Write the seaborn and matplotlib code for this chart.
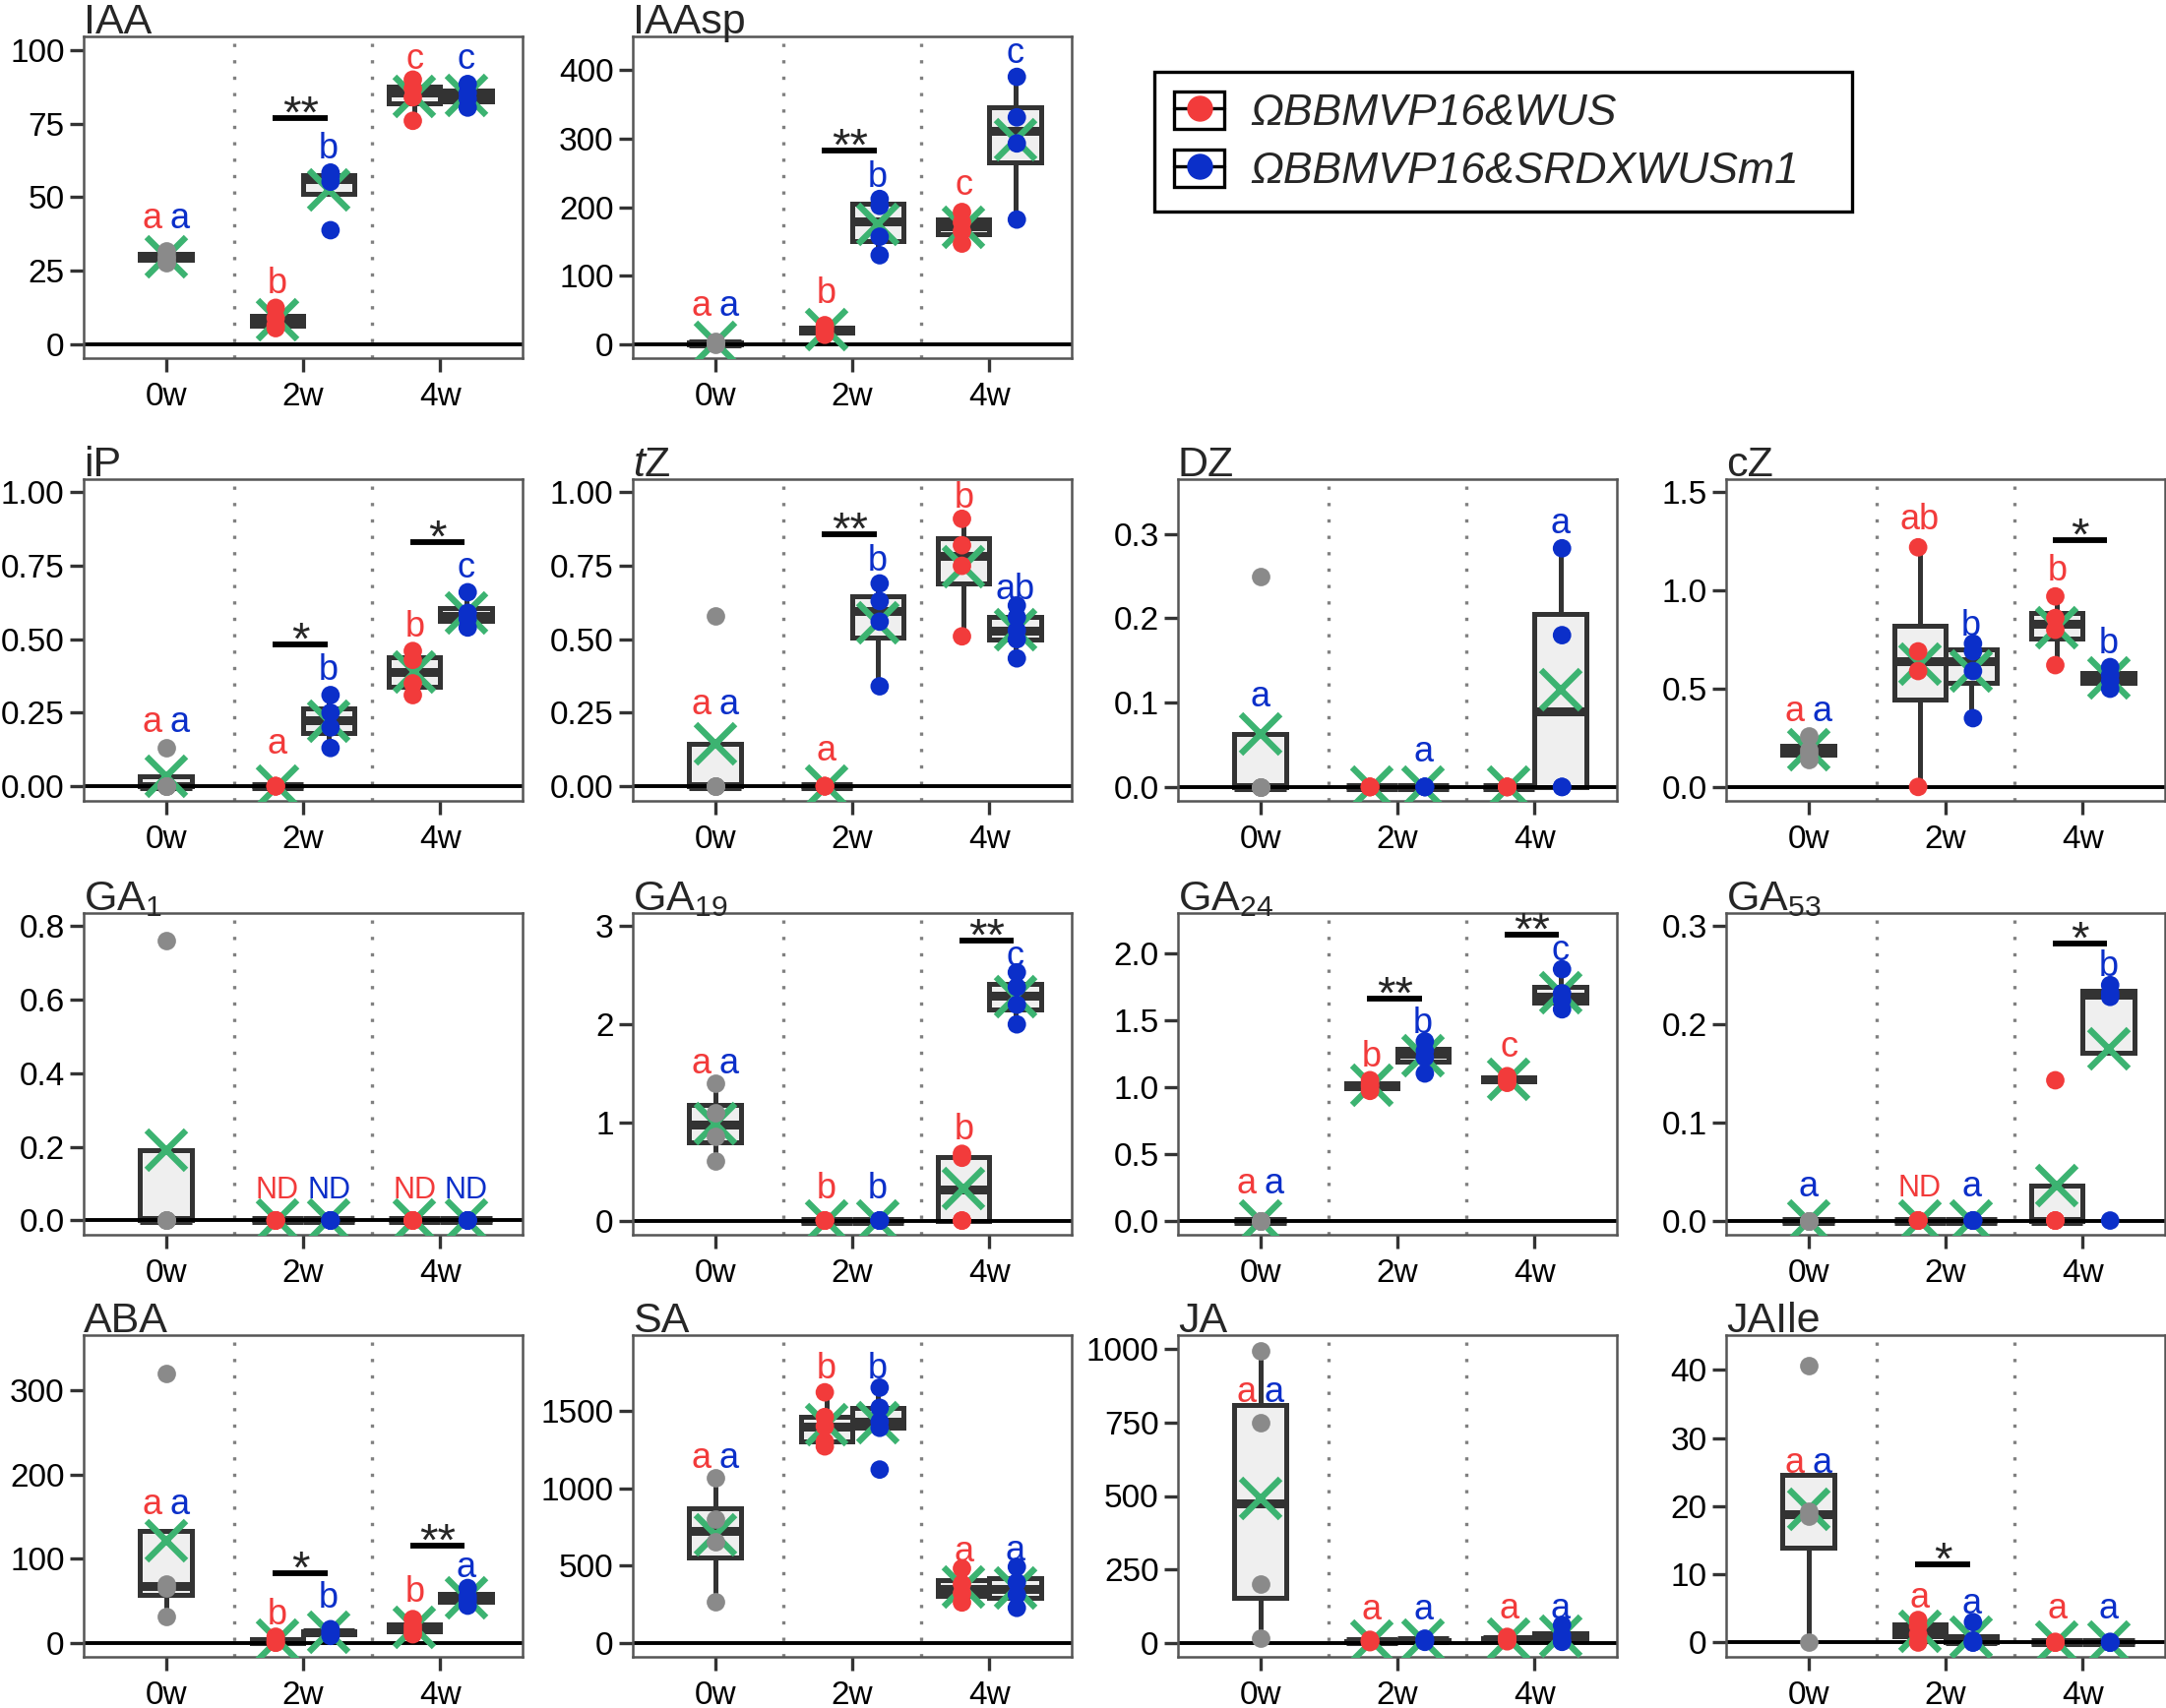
import numpy as np
import pandas as pd
import matplotlib
matplotlib.use("Agg")
import matplotlib.pyplot as plt
import seaborn as sns
from matplotlib.patches import Patch
from matplotlib.lines import Line2D
from matplotlib.legend_handler import HandlerTuple

# ---- data ----
times = ["0w", "2w", "4w"]
lines = ["ΩBBMVP16&WUS", "ΩBBMVP16&SRDXWUSm1"]

# each hormone: pooled 0w values, then (WUS, SRDXWUSm1) at 2w and 4w
IAA = {"0w": [27.8, 29.0, 30.2, 31.8],
       "2w": ([5.5, 6.5, 9.0, 12.4], [38.8, 55.3, 57.3, 58.4]),
       "4w": ([76, 84, 87, 90], [80.5, 83.5, 85.5, 88.5])}
IAAsp = {"0w": [0, 1, 3, 5],
         "2w": ([14, 19, 24, 28], [130, 157, 202, 212]),
         "4w": ([147, 165, 178, 193], [182, 293, 331, 390])}
iP = {"0w": [0, 0, 0, 0.13],
      "2w": ([0, 0, 0, 0], [0.13, 0.20, 0.25, 0.31]),
      "4w": ([0.31, 0.35, 0.43, 0.46], [0.54, 0.57, 0.59, 0.66])}
tZ = {"0w": [0, 0, 0, 0.58],
      "2w": ([0, 0, 0, 0], [0.34, 0.56, 0.63, 0.69]),
      "4w": ([0.51, 0.75, 0.82, 0.91], [0.435, 0.5, 0.53, 0.575, 0.615])}
DZ = {"0w": [0, 0, 0, 0.25],
      "2w": ([0, 0, 0, 0], [0, 0, 0, 0]),
      "4w": ([0, 0, 0, 0], [0, 0, 0.18, 0.283])}
cZ = {"0w": [0.14, 0.17, 0.19, 0.26],
      "2w": ([0, 0.59, 0.69, 1.22], [0.35, 0.59, 0.69, 0.73]),
      "4w": ([0.62, 0.8, 0.86, 0.97], [0.5, 0.54, 0.57, 0.61])}
GA1 = {"0w": [0, 0, 0, 0.76],
       "2w": ([0, 0, 0, 0], [0, 0, 0, 0]),
       "4w": ([0, 0, 0, 0], [0, 0, 0, 0])}
GA19 = {"0w": [0.61, 0.86, 1.1, 1.4],
        "2w": ([0, 0, 0, 0], [0, 0, 0, 0]),
        "4w": ([0, 0, 0.64, 0.68], [2.0, 2.2, 2.38, 2.53])}
GA24 = {"0w": [0, 0, 0, 0],
        "2w": ([0.97, 1.0, 1.02, 1.05], [1.1, 1.22, 1.27, 1.34]),
        "4w": ([1.03, 1.05, 1.07, 1.08], [1.58, 1.65, 1.7, 1.88])}
GA53 = {"0w": [0, 0, 0, 0],
        "2w": ([0, 0, 0, 0], [0, 0, 0, 0]),
        "4w": ([0, 0, 0, 0.143], [0, 0.228, 0.232, 0.24])}
ABA = {"0w": [31, 65, 70, 320],
       "2w": ([0, 0, 3, 7], [8, 11, 13, 16]),
       "4w": ([10, 15, 20, 28], [44, 50, 55, 65])}
SA = {"0w": [267, 650, 800, 1067],
      "2w": ([1270, 1300, 1400, 1460, 1620], [1120, 1390, 1430, 1520, 1650]),
      "4w": ([260, 320, 380, 480], [225, 310, 390, 490])}
JA = {"0w": [17, 200, 750, 995],
      "2w": ([2, 4, 6, 10], [3, 6, 9, 14]),
      "4w": ([5, 10, 14, 20], [3, 8, 25, 60])}
JAIle = {"0w": [0, 18.6, 19.2, 40.6],
         "2w": ([0, 1.2, 2.4, 3.3], [0, 0, 0.3, 3.0]),
         "4w": ([0, 0, 0, 0.1], [0, 0, 0, 0.1])}

# letters: (time, line index, text, y)   significance: (time, y, stars)
IAA_let = [("0w", 0, "a", 39.3), ("0w", 1, "a", 39.3), ("2w", 0, "b", 17.4),
           ("2w", 1, "b", 63.1), ("4w", 0, "c", 93.8), ("4w", 1, "c", 93.8)]
IAA_sig = [("2w", 77.0, "**")]
IAAsp_let = [("0w", 0, "a", 41), ("0w", 1, "a", 41), ("2w", 0, "b", 60),
             ("2w", 1, "b", 229), ("4w", 0, "c", 218), ("4w", 1, "c", 410)]
IAAsp_sig = [("2w", 283, "**")]
iP_let = [("0w", 0, "a", 0.183), ("0w", 1, "a", 0.183), ("2w", 0, "a", 0.11),
          ("2w", 1, "b", 0.362), ("4w", 0, "b", 0.508), ("4w", 1, "c", 0.71)]
iP_sig = [("2w", 0.484, "*"), ("4w", 0.83, "*")]
tZ_let = [("0w", 0, "a", 0.245), ("0w", 1, "a", 0.245), ("2w", 0, "a", 0.0875),
          ("2w", 1, "b", 0.733), ("4w", 0, "b", 0.948), ("4w", 1, "ab", 0.637)]
tZ_sig = [("2w", 0.856, "**")]
DZ_let = [("0w", 1, "a", 0.095), ("2w", 1, "a", 0.0306), ("4w", 1, "a", 0.301)]
DZ_sig = []
cZ_let = [("0w", 0, "a", 0.333), ("0w", 1, "a", 0.333), ("2w", 0, "ab", 1.31),
          ("2w", 1, "b", 0.771), ("4w", 0, "b", 1.05), ("4w", 1, "b", 0.678)]
cZ_sig = [("4w", 1.258, "*")]
GA1_let = [("2w", 0, "ND", 0.0606), ("2w", 1, "ND", 0.0606),
           ("4w", 0, "ND", 0.0606), ("4w", 1, "ND", 0.0606)]
GA1_sig = []
GA19_let = [("0w", 0, "a", 1.503), ("0w", 1, "a", 1.503), ("2w", 0, "b", 0.225),
            ("2w", 1, "b", 0.225), ("4w", 0, "b", 0.824), ("4w", 1, "c", 2.597)]
GA19_sig = [("4w", 2.856, "**")]
GA24_let = [("0w", 0, "a", 0.2025), ("0w", 1, "a", 0.2025), ("2w", 0, "b", 1.153),
            ("2w", 1, "b", 1.4), ("4w", 0, "c", 1.227), ("4w", 1, "c", 1.948)]
GA24_sig = [("2w", 1.659, "**"), ("4w", 2.14, "**")]
GA53_let = [("0w", 1, "a", 0.0242), ("2w", 0, "ND", 0.0242), ("2w", 1, "a", 0.0242),
            ("4w", 1, "b", 0.2496)]
GA53_sig = [("4w", 0.282, "*")]
ABA_let = [("0w", 0, "a", 153), ("0w", 1, "a", 153), ("2w", 0, "b", 21.6),
           ("2w", 1, "b", 41.2), ("4w", 0, "b", 49), ("4w", 1, "a", 78.4)]
ABA_sig = [("2w", 82.4, "*"), ("4w", 115.7, "**")]
SA_let = [("0w", 0, "a", 1131), ("0w", 1, "a", 1131), ("2w", 0, "b", 1707),
          ("2w", 1, "b", 1707), ("4w", 0, "a", 523), ("4w", 1, "a", 533)]
SA_sig = []
JA_let = [("0w", 0, "a", 820), ("0w", 1, "a", 820), ("2w", 0, "a", 78.7),
          ("2w", 1, "a", 78.7), ("4w", 0, "a", 84), ("4w", 1, "a", 84)]
JA_sig = []
JAIle_let = [("0w", 0, "a", 24.9), ("0w", 1, "a", 24.9), ("2w", 0, "a", 5.08),
             ("2w", 1, "a", 4.2), ("4w", 0, "a", 3.6), ("4w", 1, "a", 3.6)]
JAIle_sig = [("2w", 11.46, "*")]

# (title, values, letters, sig, ylim, yticks, tick format, row, col)
panels = [
    ("IAA", IAA, IAA_let, IAA_sig, (-4.7, 104.7), [0, 25, 50, 75, 100], "{:.0f}", 0, 0),
    ("IAAsp", IAAsp, IAAsp_let, IAAsp_sig, (-20, 449), [0, 100, 200, 300, 400], "{:.0f}", 0, 1),
    ("iP", iP, iP_let, iP_sig, (-0.05, 1.045), [0, 0.25, 0.5, 0.75, 1.0], "{:.2f}", 1, 0),
    (r"$\mathit{t}$Z", tZ, tZ_let, tZ_sig, (-0.05, 1.045), [0, 0.25, 0.5, 0.75, 1.0], "{:.2f}", 1, 1),
    ("DZ", DZ, DZ_let, DZ_sig, (-0.0165, 0.365), [0, 0.1, 0.2, 0.3], "{:.1f}", 1, 2),
    ("cZ", cZ, cZ_let, cZ_sig, (-0.071, 1.567), [0, 0.5, 1.0, 1.5], "{:.1f}", 1, 3),
    ("GA$_{1}$", GA1, GA1_let, GA1_sig, (-0.039, 0.836), [0, 0.2, 0.4, 0.6, 0.8], "{:.1f}", 2, 0),
    ("GA$_{19}$", GA19, GA19_let, GA19_sig, (-0.145, 3.135), [0, 1, 2, 3], "{:.0f}", 2, 1),
    ("GA$_{24}$", GA24, GA24_let, GA24_sig, (-0.106, 2.30), [0, 0.5, 1.0, 1.5, 2.0], "{:.1f}", 2, 2),
    ("GA$_{53}$", GA53, GA53_let, GA53_sig, (-0.0145, 0.3135), [0, 0.1, 0.2, 0.3], "{:.1f}", 2, 3),
    ("ABA", ABA, ABA_let, ABA_sig, (-16.9, 366), [0, 100, 200, 300], "{:.0f}", 3, 0),
    ("SA", SA, SA_let, SA_sig, (-91.8, 1990), [0, 500, 1000, 1500], "{:.0f}", 3, 1),
    ("JA", JA, JA_let, JA_sig, (-48, 1048), [0, 250, 500, 750, 1000], "{:.0f}", 3, 2),
    ("JAIle", JAIle, JAIle_let, JAIle_sig, (-2.1, 45.1), [0, 10, 20, 30, 40], "{:.0f}", 3, 3),
]

# ---- style ----
red, blue, grey, green = "#F23B3B", "#0B2FC9", "#8A8A8A", "#3CB371"
box_fill, edge = "#EFEFEF", "#333333"

sns.set_style("white")
plt.rcParams["font.family"] = ["Liberation Sans", "DejaVu Sans"]
plt.rcParams["mathtext.fontset"] = "custom"
plt.rcParams["mathtext.rm"] = "Liberation Sans"
plt.rcParams["mathtext.it"] = "Liberation Sans:italic"
plt.rcParams["mathtext.bf"] = "Liberation Sans:bold"

W, H = 2201, 1736
fig = plt.figure(figsize=(W / 100, H / 100), dpi=100)
col_left = [85, 643, 1197, 1754]
row_top = [37, 487, 928, 1357]
aw, ah = 446, 327


def long_df(vals):
    rows = [("0w", "0w", v) for v in vals["0w"]]
    for t in ["2w", "4w"]:
        for ln, grp in zip(lines, vals[t]):
            rows += [(t, ln, v) for v in grp]
    return pd.DataFrame(rows, columns=["time", "line", "value"])


for name, vals, lets, sigs, ylim, yt, fmt, r, c in panels:
    ax = fig.add_axes([col_left[c] / W, 1 - (row_top[r] + ah) / H, aw / W, ah / H])
    df = long_df(vals)
    df0 = df[df["time"] == "0w"]
    df24 = df[df["time"] != "0w"]

    for xv in [0.5, 1.5]:
        ax.axvline(xv, color="#808080", ls=(0, (1, 4)), lw=2.4, zorder=0)

    box_kw = dict(linecolor=edge, linewidth=3.6, showcaps=False, showfliers=False,
                  saturation=1, medianprops=dict(linewidth=6.5, color=edge), ax=ax)
    sns.boxplot(data=df0, x="time", y="value", order=times, color=box_fill,
                width=0.375, **box_kw)
    sns.boxplot(data=df24, x="time", y="value", hue="line", order=times,
                hue_order=lines, palette=[box_fill, box_fill], width=0.75,
                legend=False, **box_kw)
    ax.axhline(0, color="black", lw=2.8, zorder=2.5)

    pt_kw = dict(errorbar=None, markers="x", linestyles="none", markersize=29,
                 markeredgewidth=4.6, zorder=3, ax=ax)
    sns.pointplot(data=df0, x="time", y="value", order=times, color=green, **pt_kw)
    sns.pointplot(data=df24, x="time", y="value", hue="line", order=times,
                  hue_order=lines, palette=[green, green], dodge=0.375,
                  legend=False, **pt_kw)

    sns.stripplot(data=df0, x="time", y="value", order=times, color=grey,
                  jitter=False, size=13.5, linewidth=0, zorder=4, ax=ax)
    sns.stripplot(data=df24, x="time", y="value", hue="line", order=times,
                  hue_order=lines, palette=[red, blue], dodge=True, jitter=False,
                  size=13.5, linewidth=0, legend=False, zorder=4, ax=ax)

    # group letters
    n0 = sum(1 for l in lets if l[0] == "0w")
    for t, li, txt, y in lets:
        ti = times.index(t)
        if t == "0w":
            off = [-0.1, 0.1][li] if n0 > 1 else 0
        else:
            off = [-0.1875, 0.1875][li]
        ax.text(ti + off, y, txt, ha="center", va="baseline",
                fontsize=22 if txt == "ND" else 26,
                color=[red, blue][li], zorder=5)

    # significance bars
    for t, y, stars in sigs:
        ti = times.index(t)
        ax.plot([ti - 0.22, ti + 0.18], [y, y], color="black", lw=4.2,
                solid_capstyle="butt", zorder=5)
        ax.annotate(stars, xy=(ti - 0.02, y), xytext=(0, -7), textcoords="offset points",
                    ha="center", va="baseline", fontsize=34, zorder=5)

    ax.set_xlim(-0.6, 2.6)
    ax.set_ylim(*ylim)
    ax.set_yticks(yt)
    ax.set_yticklabels([fmt.format(v) for v in yt])
    ax.set_xlabel("")
    ax.set_ylabel("")
    ax.tick_params(axis="both", length=10, width=2.4, color="#333333",
                   labelcolor="black", labelsize=24, left=True, bottom=True)
    ax.tick_params(axis="y", pad=4)
    ax.tick_params(axis="x", pad=7)
    for sp in ax.spines.values():
        sp.set_color("#555555")
        sp.set_linewidth(1.8)
    ax.annotate(name, xy=(0, 1), xycoords="axes fraction", xytext=(0, 2),
                textcoords="offset points", ha="left", va="baseline", fontsize=31)

# legend
handles = [(Patch(facecolor="white", edgecolor="black", linewidth=2.4),
            Line2D([], [], color="black", lw=2.4),
            Line2D([], [], ls="none", marker="o", ms=18, color=col))
           for col in (red, blue)]
leg = fig.legend(handles, lines, handler_map={tuple: HandlerTuple(ndivide=1, pad=0)},
                 loc="upper left", bbox_to_anchor=(1173 / W, 1 - 225 / H, 709 / W, 152 / H),
                 mode="expand", frameon=True, fancybox=False, edgecolor="black",
                 framealpha=1, prop={"style": "italic", "size": 32},
                 handlelength=1.15, handleheight=0.95, borderpad=0.45,
                 labelspacing=0.35, handletextpad=0.6, borderaxespad=0)
leg.get_frame().set_linewidth(2.4)

fig.savefig("out.png", dpi=100)
